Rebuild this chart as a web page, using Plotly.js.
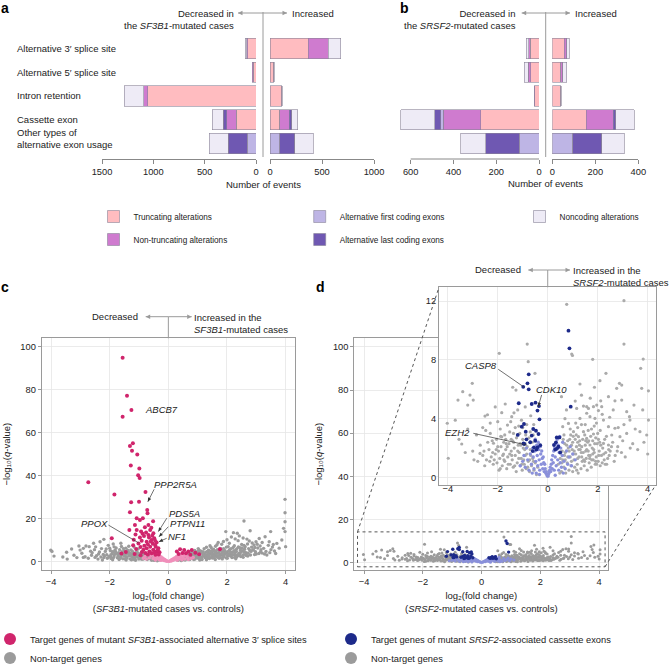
<!DOCTYPE html>
<html><head><meta charset="utf-8">
<script src="https://cdn.plot.ly/plotly-3.0.1.min.js"></script>
<style>html,body{margin:0;padding:0;background:#fff}</style>
</head><body><div id="chart" style="width:670px;height:664px"></div>
<script>
// ---------------- DATA ----------------
const categories = ['Alternative 3′ splice site','Alternative 5′ splice site','Intron retention','Cassette exon','Other types of<br>alternative exon usage'];
const segmentNames = ['Truncating alterations','Non-truncating alterations','Alternative first coding exons','Alternative last coding exons','Noncoding alterations'];
const segColors = ['#FFBCC0','#CF7BCF','#BEB5E5','#6F58B2','#EEEBF6'];

// panel a: SF3B1, number of events (decreased / increased)
const sf3b1DecTrunc     = [80, 28, 1055, 190, 0];
const sf3b1DecNonTrunc  = [12, 8, 40, 97, 0];
const sf3b1DecAltFirst  = [0, 0, 0, 0, 85];
const sf3b1DecAltLast   = [0, 0, 0, 33, 185];
const sf3b1DecNoncoding = [13, 0, 190, 107, 185];
const sf3b1IncTrunc     = [368, 35, 112, 96, 0];
const sf3b1IncNonTrunc  = [192, 5, 5, 89, 0];
const sf3b1IncAltFirst  = [0, 0, 0, 0, 96];
const sf3b1IncAltLast   = [0, 0, 0, 23, 144];
const sf3b1IncNoncoding = [122, 0, 0, 58, 176];
// panel b: SRSF2
const srsf2DecTrunc     = [42, 39, 19, 273, 0];
const srsf2DecNonTrunc  = [5, 11, 3, 175, 0];
const srsf2DecAltFirst  = [0, 0, 0, 11, 92];
const srsf2DecAltLast   = [0, 0, 0, 28, 156];
const srsf2DecNoncoding = [12, 20, 0, 160, 118];
const srsf2IncTrunc     = [56, 39, 39, 157, 0];
const srsf2IncNonTrunc  = [11, 9, 2, 127, 0];
const srsf2IncAltFirst  = [0, 0, 0, 0, 95];
const srsf2IncAltLast   = [0, 0, 0, 12, 135];
const srsf2IncNoncoding = [12, 19, 0, 85, 105];

const aTicksLeft = [0, 500, 1000, 1500];
const aTicksRight = [0, 500, 1000];
const bTicks = [0, 200, 400, 600];
const bTicksRight = [0, 200, 400];
const volcanoX = [-4, -2, 0, 2, 4];
const volcanoY = [0, 20, 40, 60, 80, 100];
const insetY = [0, 4, 8, 12];

// panel c: [log2 fold change, -log10 q]
const sf3b1TargetPts = [[-1.56,94.9],[-1.41,77.2],[-1.26,70.6],[-1.56,67.4],[-1.21,55.1],[-1.31,53.8],[-1.24,51.6],[-1.06,49.9],[-1.28,44.7],[-0.99,43.4],[-1.03,40.2],[-0.98,38.9],[-2.73,36.9],[-0.78,32.4],[-1.84,31.3],[-1.27,27.6],[-1.0,27.9],[-0.72,24.0],[-1.31,23.0],[-0.71,22.5],[-1.08,20.2],[-0.97,19.4],[-0.87,20.2],[-1.14,17.1],[-0.68,17.1],[-1.33,14.7],[-1.08,14.7],[-0.93,14.0],[-0.8,16.0],[-0.62,14.7],[-0.51,13.2],[-0.68,12.4],[-0.83,11.9],[-0.97,11.3],[-1.93,10.9],[-0.48,10.9],[-0.57,10.1],[-0.74,9.3],[-0.91,9.8],[-1.02,8.5],[-0.40,8.9],[-0.45,7.8],[-0.62,7.0],[-0.74,6.2],[-0.85,5.5],[-0.34,6.2],[-0.51,5.5],[-0.4,4.7],[-0.57,3.9],[0.40,5.75],[0.54,5.44],[0.80,5.44],[1.76,5.75],[0.29,4.7],[0.68,4.7],[-0.88,13.0],[-0.76,13.6],[-0.66,11.2],[-0.55,12.1],[-0.6,9.4],[-0.7,8.1],[-0.82,7.4],[-0.95,6.8],[-0.53,8.4],[-0.43,6.9],[-0.36,5.3],[-0.47,4.2],[-0.65,4.8],[-0.78,4.0],[-0.9,4.5],[-1.1,5.9],[-1.2,7.6],[-0.58,15.8],[-1.18,10.2],[-0.45,9.7],[-0.3,4.4],[-0.33,3.4],[-0.44,3.2],[-0.7,3.3],[-0.95,3.0],[-1.15,3.6],[0.35,3.6],[0.48,4.1],[0.6,3.9],[0.92,4.2],[1.05,3.5],[0.75,3.2],[-1.45,4.5],[-1.6,3.8],[-0.52,18.8],[-1.12,12.6]];
const sf3b1TargetLowPts = [[-0.6,4.5],[-0.58,2.8],[-0.55,5.2],[-0.52,1.5],[-0.5,3.6],[-0.48,4.6],[-0.46,2.2],[-0.44,0.8],[-0.42,3.8],[-0.4,2.9],[-0.38,1.6],[-0.36,3.3],[-0.34,2.4],[-0.32,1.0],[-0.3,2.8],[-0.28,1.9],[-0.26,0.6],[-0.24,2.2],[-0.22,1.4],[-0.2,0.8],[-0.18,1.6],[-0.16,1.0],[-0.14,0.5],[-0.12,1.1],[-0.1,0.7],[-0.08,0.3],[-0.06,0.5],[-0.04,0.2],[0.03,0.15],[0.05,0.4],[0.08,0.6],[0.1,0.3],[0.12,1.0],[0.15,0.6],[0.18,1.5],[0.2,0.9],[0.23,1.9],[0.26,1.2],[0.28,2.4],[0.3,0.7],[0.33,2.0],[0.36,2.9],[0.38,1.4],[0.4,3.2],[0.43,2.3],[0.46,0.9],[0.48,3.5],[0.5,1.8],[0.53,2.7],[0.56,1.2],[0.6,3.0],[0.64,2.0],[0.68,1.0],[-0.65,1.8],[-0.7,3.2],[-0.75,1.2],[-0.8,2.4],[0.72,2.6],[0.78,1.5],[-0.85,1.6],[0.85,2.0]];
const sf3b1OtherPts = [[-4.01,5.4],[-3.97,4.8],[-3.9,2.6],[-3.47,4.4],[-3.22,3.0],[-3.05,7.3],[-3.01,5.4],[-3.12,1.9],[-2.95,3.9],[-2.81,7.3],[-2.7,7.0],[-2.84,2.3],[-2.73,1.6],[-2.6,4.2],[-2.52,5.6],[-2.45,2.8],[-2.38,3.6],[-2.33,9.3],[-2.28,6.1],[-2.2,1.9],[-2.15,4.8],[-2.1,3.2],[-2.05,7.6],[-2.02,2.4],[-2.4,1.2],[-2.25,0.8],[-1.98,5.2],[-1.95,1.5],[-1.92,3.8],[-1.88,8.2],[-1.85,2.6],[-1.8,4.5],[-1.78,6.4],[-1.74,1.8],[-1.7,3.3],[-1.66,5.6],[-1.63,2.2],[-1.6,7.1],[-1.57,4.0],[-1.55,1.4],[-1.52,3.0],[-1.5,5.0],[-1.9,0.9],[-1.68,1.0],[-1.48,2.5],[-1.45,6.3],[-1.42,1.7],[-1.4,3.9],[-1.37,4.8],[-1.34,2.9],[-1.31,1.3],[-1.28,5.5],[-1.25,3.4],[-1.22,2.1],[-1.2,4.3],[-1.17,6.8],[-1.14,1.6],[-1.11,3.0],[-1.08,4.6],[-1.05,2.3],[-1.03,5.9],[-1.01,1.2],[-1.44,0.8],[-1.26,0.9],[-1.12,0.7],[-0.98,3.6],[-0.95,2.0],[-0.92,4.4],[-0.9,1.1],[-0.87,2.8],[-0.84,3.9],[-0.81,1.6],[-0.78,2.5],[-0.75,3.3],[-0.72,1.0],[-0.7,2.1],[-0.67,2.9],[-0.64,1.5],[-0.61,2.4],[-0.58,1.2],[-0.55,1.9],[-0.52,0.9],[-0.48,0.6],[-0.42,1.2],[-0.38,0.4],[-0.32,0.8],[0.33,0.7],[0.38,1.1],[0.44,0.5],[0.47,1.4],[0.52,1.0],[0.55,2.1],[0.58,1.5],[0.61,2.8],[0.64,1.2],[0.67,3.3],[0.7,2.0],[0.73,1.0],[0.76,2.6],[0.79,3.6],[0.82,1.5],[0.85,2.2],[0.88,4.1],[0.91,1.2],[0.94,3.0],[0.97,2.0],[0.99,4.6],[1.02,1.6],[1.05,3.4],[1.08,2.4],[1.1,5.0],[1.13,1.3],[1.16,3.9],[1.19,2.8],[1.22,6.0],[1.25,1.9],[1.28,4.4],[1.31,3.1],[1.34,2.1],[1.37,5.4],[1.4,1.5],[1.43,3.6],[1.46,6.6],[1.49,2.6],[1.07,0.8],[1.3,0.9],[1.52,4.8],[1.55,1.8],[1.58,3.3],[1.61,7.2],[1.64,2.4],[1.67,5.6],[1.7,4.0],[1.73,1.6],[1.76,6.2],[1.79,3.0],[1.82,8.1],[1.85,4.6],[1.88,2.2],[1.91,5.3],[1.94,3.6],[1.96,14.0],[1.98,6.8],[1.6,1.0],[1.84,1.3],[2.02,2.8],[2.05,4.9],[2.08,8.6],[2.11,3.5],[2.14,6.0],[2.17,1.9],[2.2,4.4],[2.22,13.5],[2.25,7.4],[2.28,3.0],[2.31,5.5],[2.35,13.2],[2.38,9.8],[2.41,4.0],[2.44,6.5],[2.47,2.4],[2.5,8.0],[2.3,1.4],[2.53,5.0],[2.56,3.2],[2.58,18.9],[2.62,7.0],[2.65,4.2],[2.68,10.5],[2.71,2.6],[2.74,6.1],[2.79,14.4],[2.82,4.8],[2.86,8.7],[2.9,5.4],[2.94,3.3],[2.99,9.3],[3.05,6.4],[3.13,7.3],[3.2,4.0],[3.3,11.6],[3.36,3.1],[3.44,9.3],[3.49,14.0],[3.55,6.8],[3.62,5.0],[3.7,8.5],[3.87,10.1],[3.93,15.5],[3.98,29.0],[3.98,22.8],[3.98,18.6],[3.98,14.0],[4.0,7.0],[-1.96,3.1],[-1.82,5.3],[-1.72,2.7],[-1.58,4.6],[-1.46,3.4],[-1.33,4.1],[-1.18,2.6],[-1.06,3.7],[-0.93,2.4],[-0.8,3.0],[-0.69,1.7],[-0.56,2.6],[0.6,1.9],[0.72,3.0],[0.84,2.9],[0.96,3.8],[1.12,2.2],[1.24,3.3],[1.36,4.0],[1.48,3.9],[1.62,2.9],[1.74,4.8],[1.86,3.4],[1.99,4.2],[2.12,2.6],[2.24,5.1],[2.36,3.3],[2.48,4.6],[2.6,5.8],[2.72,3.9],[1.18,4.7],[1.54,5.8],[0.9,5.2],[1.02,6.1],[1.42,7.4],[1.7,8.9],[2.0,10.2],[2.15,11.5],[2.42,12.0],[2.55,11.0],[2.76,9.6],[3.1,10.8],[3.2,8.9],[-2.55,8.6],[-2.9,6.2],[-2.2,10.4],[-2.35,4.5],[-2.18,2.6],[-2.0,6.3],[-1.87,1.9],[-1.76,3.9],[-1.64,1.6],[-1.53,6.1],[-1.41,2.2],[-1.29,3.7],[-1.16,2.0],[-1.04,4.1],[-0.96,1.4],[-0.86,2.2],[-0.74,1.8],[-0.63,3.4],[-0.57,0.7],[0.57,0.8],[0.63,2.5],[0.69,1.3],[0.74,3.9],[0.81,2.4],[0.87,1.0],[0.93,2.6],[1.0,3.2],[1.04,2.0],[1.11,4.3],[1.15,1.0],[1.21,3.6],[1.27,2.4],[1.33,4.8],[1.39,3.3],[1.45,1.9],[1.51,3.5],[1.57,5.2],[1.63,4.4],[1.69,2.1],[1.75,3.6],[1.81,5.9],[1.87,2.8],[1.93,4.9],[1.97,1.8],[2.03,3.7],[2.09,5.6],[2.16,3.0],[2.21,6.6],[2.27,4.2],[2.33,2.2],[2.39,6.9],[2.45,3.6],[2.52,6.4],[2.59,4.6],[2.66,2.9],[2.7,8.2],[2.78,5.2],[2.84,6.8],[2.92,7.8],[2.97,4.6],[3.03,8.1],[3.09,3.8],[3.16,5.6],[3.25,6.2],[3.33,4.8],[3.41,7.6],[3.5,5.6],[3.58,8.0],[3.66,3.8],[3.78,6.3],[1.88,9.4],[1.66,7.9],[2.28,10.6],[1.3,6.7],[1.05,5.3],[0.8,4.4],[-1.62,8.6],[-1.85,6.9],[-2.12,5.9],[-2.62,3.0],[-3.3,5.9],[-3.6,2.2],[-1.35,7.2],[-2.48,6.9],[-2.9,2.0],[-3.45,1.2],[-2.22,3.4],[-2.08,1.6],[-1.97,2.2],[-1.83,3.5],[-1.69,4.2],[-1.61,2.8],[-1.47,1.2],[-1.39,5.3],[-1.27,2.6],[-1.19,1.1],[-1.09,3.3],[-0.99,2.6],[-0.89,3.3],[-0.77,2.0],[-0.66,2.3],[-0.59,1.6],[0.59,2.4],[0.66,1.7],[0.71,2.6],[0.78,1.9],[0.86,3.4],[0.92,1.7],[0.98,2.6],[1.06,2.9],[1.14,1.8],[1.2,3.3],[1.26,2.9],[1.32,1.5],[1.38,2.7],[1.44,4.5],[1.5,1.7],[1.56,2.7],[1.65,3.8],[1.71,2.6],[1.78,1.9],[1.83,3.8],[1.9,2.6],[1.95,4.5],[2.01,1.6],[2.07,3.1],[2.13,4.4],[2.19,3.2],[2.26,2.0],[2.32,4.7],[2.4,2.9],[2.46,5.3],[2.55,2.1],[2.64,3.6],[2.8,3.1],[2.88,5.6],[3.0,3.6],[3.15,4.6],[3.28,3.6],[3.46,4.2],[-2.5,2.0],[-2.65,4.9],[-2.3,2.2],[-1.9,4.6],[-1.55,3.5],[-1.23,4.9],[-1.13,2.4],[-0.85,1.2],[1.09,1.5],[1.47,5.1],[1.61,4.1],[1.89,6.1],[2.04,7.0],[2.34,6.1],[2.58,7.6],[2.95,6.6]];

// panel d
const srsf2TargetPts = [[0.83,9.99],[0.87,8.79],[-0.76,7.02],[-0.81,6.41],[-0.76,6.0],[-0.98,6.17],[-1.16,5.05],[-0.64,5.0],[-0.49,5.09],[-0.41,4.55],[-0.35,4.86],[-0.33,3.96],[0.92,4.82],[-0.95,3.64],[-1.04,3.46],[-0.58,3.3],[-0.47,3.18],[-0.88,3.12],[-0.64,2.85],[-0.37,2.96],[0.36,2.73],[0.47,2.73],[0.33,2.39],[0.25,2.21],[0.43,2.1],[-0.55,2.05],[-0.41,2.05],[-0.97,2.32],[-0.7,2.4],[-0.5,2.5],[-0.45,1.9],[-0.6,1.8],[0.3,1.9],[0.5,1.7],[-0.85,2.6],[-0.3,2.2],[0.38,2.0],[-1.2,2.9],[-0.94,2.28]];
const srsf2TargetLowPts = [[-0.55,0.6],[-0.52,1.8],[-0.5,2.6],[-0.48,1.1],[-0.46,0.3],[-0.44,2.2],[-0.42,1.5],[-0.4,0.8],[-0.38,2.4],[-0.36,1.9],[-0.34,1.2],[-0.32,0.5],[-0.3,2.1],[-0.28,1.6],[-0.26,0.9],[-0.24,1.8],[-0.22,1.3],[-0.2,0.6],[-0.18,1.4],[-0.16,1.0],[-0.14,0.4],[-0.12,0.9],[-0.1,0.6],[-0.08,0.3],[-0.06,0.4],[-0.04,0.2],[-0.02,0.1],[0.02,0.1],[0.04,0.25],[0.06,0.35],[0.08,0.5],[0.1,0.7],[0.12,0.4],[0.14,0.9],[0.16,1.2],[0.18,0.6],[0.2,1.5],[0.22,1.0],[0.24,1.8],[0.26,0.5],[0.28,2.0],[0.3,1.4],[0.32,2.3],[0.34,0.8],[0.36,1.9],[0.38,2.6],[0.4,1.2],[0.42,2.2],[0.44,0.5],[0.46,1.7],[0.48,2.8],[0.5,1.0],[0.52,2.0],[0.55,0.7],[0.58,1.5],[0.6,2.4],[-0.58,1.4],[-0.6,2.0],[-0.65,0.9],[0.65,1.1],[-0.7,1.6],[0.7,0.6],[-0.75,0.5],[0.75,1.8],[-0.8,1.2],[0.8,0.9],[-0.85,2.0],[0.85,1.4],[-0.9,0.7],[0.9,2.1],[-0.95,1.5],[0.95,0.8],[-1.0,1.1],[1.0,1.6],[-1.1,0.8],[1.1,1.2],[-0.62,0.3],[0.62,0.3],[-0.33,0.2],[0.3,0.15]];
const srsf2OtherPts = [[0.76,11.78],[3.05,12.03],[-0.82,9.08],[-1.94,8.45],[3.05,9.08],[0.96,8.4],[0.99,8.3],[1.8,8.04],[-0.78,7.88],[3.82,8.06],[3.72,7.43],[-0.51,7.09],[2.33,7.09],[-3.02,6.41],[-3.4,5.84],[-3.11,5.61],[-3.59,5.27],[-3.2,4.93],[-2.98,5.27],[-1.4,6.14],[-1.27,5.95],[2.09,6.59],[2.87,6.41],[2.96,6.29],[3.76,6.07],[4.03,5.9],[1.29,6.36],[1.87,6.14],[2.76,6.07],[2.43,5.5],[2.12,5.22],[2.69,5.22],[2.96,5.27],[3.45,4.93],[1.56,4.82],[3.16,4.48],[3.27,4.14],[4.03,3.91],[-4.02,3.69],[-3.44,2.28],[-3.98,1.31],[-2.51,4.18],[-2.41,4.27],[-1.84,4.41],[-1.61,3.57],[-1.44,4.14],[-1.37,3.0],[-1.84,2.77],[-2.17,2.33],[-2.71,1.64],[1.16,4.7],[1.43,4.86],[1.63,4.7],[1.83,4.82],[1.96,4.93],[2.03,4.55],[2.16,4.82],[1.56,4.37],[1.69,4.14],[1.29,4.02],[1.89,4.02],[2.23,3.91],[2.43,3.46],[2.69,3.35],[2.56,2.89],[2.89,2.78],[3.16,3.0],[3.29,3.91],[3.69,3.12],[3.96,2.89],[0.69,4.0],[0.6,3.46],[0.83,3.68],[1.03,3.12],[1.23,2.78],[1.43,3.12],[1.56,2.66],[1.83,2.96],[2.03,2.6],[2.23,2.32],[2.43,2.21],[1.69,2.21],[1.36,2.1],[0.65,2.9],[0.8,2.5],[0.95,2.2],[1.1,2.6],[1.2,3.4],[1.5,3.6],[1.75,3.3],[1.95,3.7],[2.1,3.2],[2.35,2.8],[2.6,2.4],[2.8,2.1],[3.0,2.5],[3.4,2.3],[3.6,1.9],[3.85,2.4],[4.0,1.6],[2.95,1.7],[2.7,1.5],[2.5,1.8],[0.55,5.5],[1.1,5.2],[1.35,5.6],[1.7,5.4],[0.75,4.6],[0.55,0.4],[0.6,1.2],[0.65,0.7],[0.7,1.7],[0.72,0.3],[0.78,1.0],[0.82,2.0],[0.85,0.5],[0.9,1.4],[0.93,0.8],[0.98,1.9],[1.0,0.4],[1.05,1.2],[1.08,0.7],[1.12,1.6],[1.15,2.1],[1.18,0.9],[1.22,0.3],[1.25,1.4],[1.3,1.9],[1.33,0.6],[1.38,1.1],[1.42,1.7],[1.46,0.8],[1.5,2.2],[1.54,1.3],[1.58,0.5],[1.62,1.8],[1.66,1.0],[1.7,1.5],[1.74,0.7],[1.78,2.0],[1.82,1.2],[1.86,1.7],[1.9,0.9],[1.94,1.4],[1.98,2.3],[2.02,1.1],[2.06,1.8],[2.1,0.8],[2.15,1.5],[2.2,2.0],[2.26,1.2],[2.32,1.7],[2.4,1.3],[0.68,2.3],[0.88,2.6],[1.02,2.8],[1.28,2.5],[1.48,2.9],[1.64,2.5],[1.92,2.7],[-0.55,0.5],[-0.6,1.3],[-0.65,0.8],[-0.7,1.9],[-0.73,0.4],[-0.78,1.1],[-0.82,2.1],[-0.86,0.6],[-0.9,1.5],[-0.94,0.9],[-0.98,2.0],[-1.02,0.5],[-1.06,1.3],[-1.1,0.8],[-1.14,1.7],[-1.18,2.2],[-1.22,1.0],[-1.26,0.4],[-1.3,1.5],[-1.34,2.0],[-1.38,0.7],[-1.42,1.2],[-1.46,1.8],[-1.5,0.9],[-1.55,2.3],[-1.6,1.4],[-1.64,0.6],[-1.68,1.9],[-1.72,1.1],[-1.77,1.6],[-1.82,0.8],[-1.87,2.1],[-1.92,1.3],[-1.97,1.8],[-2.03,1.0],[-2.1,1.6],[-2.18,0.9],[-2.26,1.4],[-2.35,1.9],[-2.45,1.2],[-2.6,1.5],[-2.8,1.1],[-3.0,1.8],[-0.62,2.4],[-0.75,2.7],[-0.88,2.9],[-1.0,2.6],[-1.12,3.0],[-1.25,2.7],[-1.4,2.5],[-1.52,3.1],[-1.68,2.6],[-1.9,3.3],[-2.05,2.6],[-2.3,3.0],[-2.6,3.4],[-2.85,2.9],[-3.2,3.3],[-3.55,2.6],[-3.7,3.9],[-0.56,3.6],[-0.68,4.2],[-0.9,4.8],[-1.05,3.9],[-1.2,4.6],[-1.7,5.0],[-2.1,4.8],[-2.3,3.7],[-0.45,0.2],[-0.5,1.0],[0.48,0.3],[0.5,1.3],[-0.4,0.7],[0.42,0.9],[-1.95,0.5],[-1.8,1.5],[-1.66,2.3],[-1.52,1.6],[-1.36,2.4],[-1.2,1.8],[-1.08,2.2],[-0.96,1.2],[-0.84,1.6],[-0.72,1.2],[-0.64,1.9],[-0.58,2.9],[-0.7,3.1],[-0.84,3.6],[-1.0,3.4],[-1.16,3.5],[-1.3,3.4],[-1.48,3.8],[-1.62,2.1],[-1.76,2.4],[-1.88,2.8],[-2.0,2.1],[-2.14,1.2],[-2.22,2.5],[-2.4,2.4],[-2.52,0.8],[-2.7,2.2],[-2.95,1.2],[-3.3,1.7],[-2.48,3.2],[-2.0,3.8],[-1.35,4.4],[0.58,1.8],[0.62,2.6],[0.7,1.2],[0.76,2.2],[0.86,1.8],[0.92,2.9],[1.0,2.4],[1.06,1.8],[1.14,2.9],[1.2,1.3],[1.27,2.2],[1.34,1.7],[1.4,2.6],[1.44,1.2],[1.52,1.8],[1.6,2.4],[1.68,1.3],[1.72,2.8],[1.8,1.6],[1.88,2.3],[1.96,0.9],[2.08,2.4],[2.18,1.0],[2.28,2.6],[2.36,0.9],[2.46,1.5],[2.55,2.1],[2.66,1.1],[2.78,1.8],[3.1,1.4],[3.3,2.0],[0.9,3.3],[1.12,3.7],[1.35,3.6],[1.62,3.2],[1.86,3.5],[2.18,4.3],[2.48,4.1],[2.82,3.4],[3.05,3.6],[2.62,4.6],[3.5,3.3],[3.8,4.6],[-1.9,0.6],[-1.75,1.2],[-1.58,0.9],[-1.44,1.5],[-1.32,0.8],[-1.16,1.3],[-1.04,0.9],[-0.92,1.9],[-0.8,0.7],[-0.68,1.5],[-0.57,1.1],[0.57,1.0],[0.67,1.5],[0.8,1.4],[0.95,1.1],[1.03,1.6],[1.16,0.5],[1.24,1.9],[1.36,1.4],[1.48,1.1],[1.56,1.9],[1.64,1.5],[1.76,1.2],[1.84,1.9],[1.92,1.1],[2.04,1.5],[2.12,2.2],[2.24,1.6],[2.3,0.9],[2.44,1.9],[-2.06,1.9],[-2.2,1.7],[-2.32,1.1],[-2.55,1.8],[-1.46,2.6],[-1.72,2.9],[-1.1,2.3],[-0.9,2.3],[1.2,2.4],[1.52,2.5],[1.8,2.5],[2.0,3.0]];

// zoomed region of panel d shown in the inset
const zoomBoxX = [-4.22, 4.2];
const zoomBoxY = [-2, 14.2];

// gene labels: [name, axes, point x, point y, label offset px (dx, dy), leader start offset px (dx, dy), arrowhead]
const geneLabels = [
  ['PPP2R5A', 'c', -0.70, 27.9, 27.7, -17.4, 6.3, -12.4, true],
  ['PDS5A', 'c', -0.34, 14.0, 26.4, -18.4, 8.4, -13.4, true],
  ['PTPN11', 'c', -0.32, 11.6, 28.5, -13.4, 9.3, -10, true],
  ['NF1', 'c', -0.32, 9.3, 18.5, -5.7, 7.7, -3.4, true],
  ['PPOX', 'c', -1.02, 8.8, -43.8, -19.4, -30, -17.7, false],
  ['CASP8', 'inset', -0.94, 6.14, -43.1, -21.6, -26, -18, false],
  ['CDK10', 'inset', -0.38, 4.82, 13.7, -17.4, 3.4, -11.7, true],
  ['EZH2', 'inset', -0.84, 2.21, -68.9, -12.3, -53.4, -11.7, false]
];

// ---------------- FIGURE ----------------
const W = 670, H = 664;
const X = px => px / W;
const Y = py => 1 - py / H;
const FONT = 'Liberation Sans, Arial, Helvetica, DejaVu Sans, sans-serif';
const rowIdx = categories.map((_, i) => i);

const traces = [];
const barSets = [
  {xaxis: 'x',  yaxis: 'y',  series: [sf3b1DecTrunc, sf3b1DecNonTrunc, sf3b1DecAltFirst, sf3b1DecAltLast, sf3b1DecNoncoding]},
  {xaxis: 'x2', yaxis: 'y2', series: [sf3b1IncTrunc, sf3b1IncNonTrunc, sf3b1IncAltFirst, sf3b1IncAltLast, sf3b1IncNoncoding]},
  {xaxis: 'x3', yaxis: 'y3', series: [srsf2DecTrunc, srsf2DecNonTrunc, srsf2DecAltFirst, srsf2DecAltLast, srsf2DecNoncoding]},
  {xaxis: 'x4', yaxis: 'y4', series: [srsf2IncTrunc, srsf2IncNonTrunc, srsf2IncAltFirst, srsf2IncAltLast, srsf2IncNoncoding]}
];
const segLegend = ['legend', 'legend', 'legend2', 'legend2', 'legend3'];
barSets.forEach((set, si) => set.series.forEach((vals, k) => traces.push({
  type: 'bar', orientation: 'h', x: vals.map(v => v === 0 ? null : v), y: rowIdx,
  xaxis: set.xaxis, yaxis: set.yaxis, width: 0.855,
  name: segmentNames[k], legendgroup: segmentNames[k], legend: segLegend[k], showlegend: si === 0,
  marker: {color: segColors[k], line: {color: '#8a8498', width: 0.6}}, hoverinfo: 'skip'
})));

function pts(list, xa, ya, color, size, name, legend, show, rank) {
  return {type: 'scatter', mode: 'markers', x: list.map(p => p[0]), y: list.map(p => p[1]),
    xaxis: xa, yaxis: ya, name: name, legend: legend, showlegend: show, legendrank: rank || 1000, cliponaxis: true,
    marker: {color: color, size: size, line: {width: 0}}, hoverinfo: 'skip'};
}
const GRAY = '#9b9b9b', MAG = '#D0256C', LPINK = '#F08FBA', NAVY = '#1D2A8A', LBLUE = '#8A90DA';
// c
traces.push(pts(sf3b1OtherPts, 'x5', 'y5', GRAY, 3.4, 'Non-target genes', 'legend4', true, 2));
traces.push(pts(sf3b1TargetLowPts, 'x5', 'y5', LPINK, 3.4, 'target low', 'legend4', false));
traces.push(pts(sf3b1TargetPts, 'x5', 'y5', MAG, 4, 'Target genes of mutant <i>SF3B1</i>-associated alternative 3′ splice sites', 'legend4', true, 1));
// d main
traces.push(pts(srsf2OtherPts, 'x6', 'y6', GRAY, 3, 'Non-target genes', 'legend5', true, 2));
traces.push(pts(srsf2TargetLowPts, 'x6', 'y6', LBLUE, 3, 'target low', 'legend5', false));
traces.push(pts(srsf2TargetPts, 'x6', 'y6', NAVY, 3.4, 'Target genes of mutant <i>SRSF2</i>-associated cassette exons', 'legend5', true, 1));
// d inset (same genes, zoomed)
traces.push(pts(srsf2OtherPts, 'x7', 'y7', '#ababab', 3.2, 'Non-target genes', 'legend5', false));
traces.push(pts(srsf2TargetLowPts, 'x7', 'y7', LBLUE, 3.4, 'target low', 'legend5', false));
traces.push(pts(srsf2TargetPts, 'x7', 'y7', NAVY, 3.8, 'target', 'legend5', false));

const barY = {domain: [Y(159), Y(36.6)], range: [4.653, -0.5], visible: false, fixedrange: true};
const barX = (dom, range, tv, showline) => ({domain: [X(dom[0]), X(dom[1])], range: range, tickvals: tv,
  showgrid: false, zeroline: false, showline: showline, linecolor: '#888', linewidth: 1,
  ticks: 'outside', ticklen: 4, tickcolor: '#888', tickfont: {size: 9.3, color: '#222'}, fixedrange: true});
const volX = (dom, range, extra) => Object.assign({domain: [X(dom[0]), X(dom[1])], range: range, tickvals: volcanoX,
  showgrid: true, gridcolor: '#e6e6e6', gridwidth: 0.8, zeroline: false, showline: true, mirror: true,
  linecolor: '#9a9a9a', linewidth: 1, ticks: 'outside', ticklen: 3, tickcolor: '#9a9a9a',
  tickfont: {size: 9.3, color: '#222'}, fixedrange: true}, extra || {});
const volY = (dom, range, tv, extra) => Object.assign({domain: [Y(dom[1]), Y(dom[0])], range: range, tickvals: tv,
  showgrid: true, gridcolor: '#e6e6e6', gridwidth: 0.8, zeroline: false, showline: true, mirror: true,
  linecolor: '#9a9a9a', linewidth: 1, ticks: 'outside', ticklen: 3, tickcolor: '#9a9a9a',
  tickfont: {size: 9.3, color: '#222'}, fixedrange: true}, extra || {});

const xaxis5 = volX([41.7, 295], [-4.32, 4.32], {anchor: 'y5',
  title: {text: 'log₂(fold change)<br>(<i>SF3B1</i>-mutated cases vs. controls)', font: {size: 9.5}, standoff: 6}});
const yaxis5 = volY([338.3, 570], [-3.86, 103.9], volcanoY, {anchor: 'x5',
  title: {text: '−log₁₀(<i>q</i>-value)', font: {size: 9.5}, standoff: 7}});
const xaxis6 = volX([354.3, 608.3], [-4.33, 4.31], {anchor: 'y6',
  title: {text: 'log₂(fold change)<br>(<i>SRSF2</i>-mutated cases vs. controls)', font: {size: 9.5}, standoff: 6}});
const yaxis6 = volY([338.3, 570], [-3.48, 104], volcanoY, {anchor: 'x6',
  title: {text: '−log₁₀(<i>q</i>-value)', font: {size: 9.5}, standoff: 8}});
const xaxis7 = volX([439, 655.7], [-4.35, 4.32], {anchor: 'y7', ticks: '', ticklabelstandoff: -5});
const yaxis7 = volY([287.3, 485], [-0.51, 12.94], insetY, {anchor: 'x7', ticks: ''});

const shapes = [];
const line = (x0, y0, x1, y1) => shapes.push({type: 'line', xref: 'paper', yref: 'paper',
  x0: X(x0), y0: Y(y0), x1: X(x1), y1: Y(y1), line: {color: '#9a9a9a', width: 1}});
line(263, 12, 263, 157);
line(545.7, 12, 545.7, 157);
shapes.push({type: 'line', xref: 'x3', yref: 'paper', x0: 600, x1: 0, y0: Y(159), y1: Y(159), line: {color: '#888', width: 1}});
shapes.push({type: 'line', xref: 'x5', yref: 'paper', x0: 0, x1: 0, y0: Y(338.3), y1: Y(316.7), line: {color: '#9a9a9a', width: 1}});
shapes.push({type: 'line', xref: 'x7', yref: 'paper', x0: 0, x1: 0, y0: Y(287.3), y1: Y(270), line: {color: '#9a9a9a', width: 1}});
shapes.push({type: 'rect', xref: 'x6', yref: 'y6', x0: zoomBoxX[0], x1: zoomBoxX[1], y0: zoomBoxY[0], y1: zoomBoxY[1],
  line: {color: '#555', width: 1, dash: 'dot'}});
const toPX = (ax, v) => ax.domain[0] + (v - ax.range[0]) / (ax.range[1] - ax.range[0]) * (ax.domain[1] - ax.domain[0]);
shapes.push({type: 'line', xref: 'paper', yref: 'paper', x0: toPX(xaxis6, zoomBoxX[0]), y0: toPX(yaxis6, zoomBoxY[1]),
  x1: xaxis7.domain[0], y1: yaxis7.domain[1], line: {color: '#555', width: 1, dash: 'dot'}});
shapes.push({type: 'line', xref: 'paper', yref: 'paper', x0: toPX(xaxis6, zoomBoxX[1]), y0: toPX(yaxis6, zoomBoxY[0]),
  x1: xaxis7.domain[1], y1: yaxis7.domain[0], line: {color: '#555', width: 1, dash: 'dot'}});
// direction arrows (line + small head)
const arrow = (hx, hy, tx) => {
  const dir = hx < tx ? -1 : 1;
  shapes.push({type: 'line', xref: 'paper', yref: 'paper', x0: X(hx), y0: Y(hy), x1: X(tx), y1: Y(hy), line: {color: '#9a9a9a', width: 1}});
  const bx = hx - dir * 4.5;
  shapes.push({type: 'path', xref: 'paper', yref: 'paper', fillcolor: '#9a9a9a', line: {width: 0},
    path: 'M ' + X(hx) + ',' + Y(hy) + ' L ' + X(bx) + ',' + Y(hy - 2.2) + ' L ' + X(bx) + ',' + Y(hy + 2.2) + ' Z'});
};
arrow(238, 13, 263); arrow(287, 13, 263);
arrow(521.7, 13, 545.7); arrow(570, 13, 545.7);
arrow(145.7, 316.7, 168.3); arrow(191.7, 316.7, 168.3);
arrow(528.3, 270, 547.7); arrow(570, 270, 547.7);

const ann = [];
const txt = (text, px, py, xanchor, extra) => ann.push(Object.assign({text: text, xref: 'paper', yref: 'paper',
  x: X(px), y: Y(py), xanchor: xanchor, yanchor: 'middle', showarrow: false}, extra || {}));
txt('<b>a</b>', -1, 8, 'left', {font: {size: 14, color: '#000'}});
txt('<b>b</b>', 398, 8, 'left', {font: {size: 14, color: '#000'}});
txt('<b>c</b>', -1, 287, 'left', {font: {size: 14, color: '#000'}});
txt('<b>d</b>', 314, 287, 'left', {font: {size: 14, color: '#000'}});
txt('Decreased in<br>the <i>SF3B1</i>-mutated cases', 236, 19, 'right', {align: 'right'});
txt('Increased', 290, 13, 'left');
txt('Decreased in<br>the <i>SRSF2</i>-mutated cases', 518, 19, 'right', {align: 'right'});
txt('Increased', 572.5, 13, 'left');
categories.forEach((c, i) => ann.push({text: c, xref: 'paper', yref: 'y', x: X(15), y: i, xanchor: 'left', yanchor: 'middle',
  align: 'left', showarrow: false, yshift: i === 4 ? 5 : 0}));
txt('Number of events', 263, 184, 'center');
txt('Number of events', 545.5, 183.5, 'center');
txt('Decreased', 140, 316.7, 'right');
txt('Increased in the<br><i>SF3B1</i>-mutated cases', 192, 323, 'left', {align: 'left'});
txt('Decreased', 523, 270, 'right');
txt('Increased in the<br><i>SRSF2</i>-mutated cases', 571, 276, 'left', {align: 'left'});

ann.push({text: '<i>ABCB7</i>', xref: 'x5', yref: 'y5', x: -0.88, y: 70.6, xanchor: 'left', showarrow: false, font: {size: 9.5}});
geneLabels.forEach(g => {
  const [name, where, gx, gy, tdx, tdy, sdx, sdy, head] = g;
  const xr = where === 'c' ? 'x5' : 'x7', yr = where === 'c' ? 'y5' : 'y7';
  ann.push({text: '<i>' + name + '</i>', xref: xr, yref: yr, x: gx, y: gy, xshift: tdx, yshift: -tdy,
    xanchor: 'center', yanchor: 'middle', showarrow: false, font: {size: 9.5}});
  shapes.push({type: 'line', xref: xr, yref: yr, xsizemode: 'pixel', ysizemode: 'pixel', xanchor: gx, yanchor: gy,
    x0: sdx, y0: -sdy, x1: 0, y1: 0, line: {color: '#333', width: 0.7}});
  if (head) {
    const len = Math.hypot(sdx, sdy), ux = -sdx / len, uy = sdy / len; // direction toward head (y up)
    const L = 4, w = 1.7, bx = -ux * L, by = -uy * L;
    const p1x = bx - uy * w, p1y = by + ux * w, p2x = bx + uy * w, p2y = by - ux * w;
    shapes.push({type: 'path', xref: xr, yref: yr, xsizemode: 'pixel', ysizemode: 'pixel', xanchor: gx, yanchor: gy,
      path: 'M 0,0 L ' + p1x.toFixed(2) + ',' + p1y.toFixed(2) + ' L ' + p2x.toFixed(2) + ',' + p2y.toFixed(2) + ' Z',
      fillcolor: '#333', line: {width: 0}});
  }
});

const legBase = {xanchor: 'left', yanchor: 'top', bgcolor: 'rgba(0,0,0,0)', borderwidth: 0};
const layout = {
  width: W, height: H, margin: {l: 0, r: 0, t: 0, b: 0, autoexpand: false}, paper_bgcolor: '#fff', plot_bgcolor: '#fff',
  font: {family: FONT, size: 9.5, color: '#222'}, barmode: 'stack', hovermode: false, showlegend: true,
  xaxis: Object.assign(barX([102, 256], [1500, 0], aTicksLeft, true), {anchor: 'y'}),
  yaxis: Object.assign({}, barY, {anchor: 'x'}),
  xaxis2: Object.assign(barX([270, 374], [0, 1000], aTicksRight, true), {anchor: 'y2'}),
  yaxis2: Object.assign({}, barY, {anchor: 'x2'}),
  xaxis3: Object.assign(barX([400, 539], [650, 0], bTicks, false), {anchor: 'y3'}),
  yaxis3: Object.assign({}, barY, {anchor: 'x3'}),
  xaxis4: Object.assign(barX([552.3, 638.3], [0, 400], bTicksRight, true), {anchor: 'y4'}),
  yaxis4: Object.assign({}, barY, {anchor: 'x4'}),
  xaxis5: xaxis5, yaxis5: yaxis5, xaxis6: xaxis6, yaxis6: yaxis6, xaxis7: xaxis7, yaxis7: yaxis7,
  legend: Object.assign({}, legBase, {x: X(93.5), y: Y(202), font: {size: 8.2}, traceorder: 'grouped', tracegroupgap: 4}),
  legend2: Object.assign({}, legBase, {x: X(299.7), y: Y(202), font: {size: 8.2}, traceorder: 'grouped', tracegroupgap: 4}),
  legend3: Object.assign({}, legBase, {x: X(519.5), y: Y(202), font: {size: 8.2}, traceorder: 'grouped', tracegroupgap: 4}),
  legend4: Object.assign({}, legBase, {x: X(-10), y: Y(624.5), font: {size: 9.3}, itemsizing: 'constant', traceorder: 'normal'}),
  legend5: Object.assign({}, legBase, {x: X(331), y: Y(624.5), font: {size: 9.3}, itemsizing: 'constant', traceorder: 'normal'}),
  shapes: shapes, annotations: ann
};
Plotly.newPlot('chart', traces, layout, {displayModeBar: false, staticPlot: true});
</script></body></html>
